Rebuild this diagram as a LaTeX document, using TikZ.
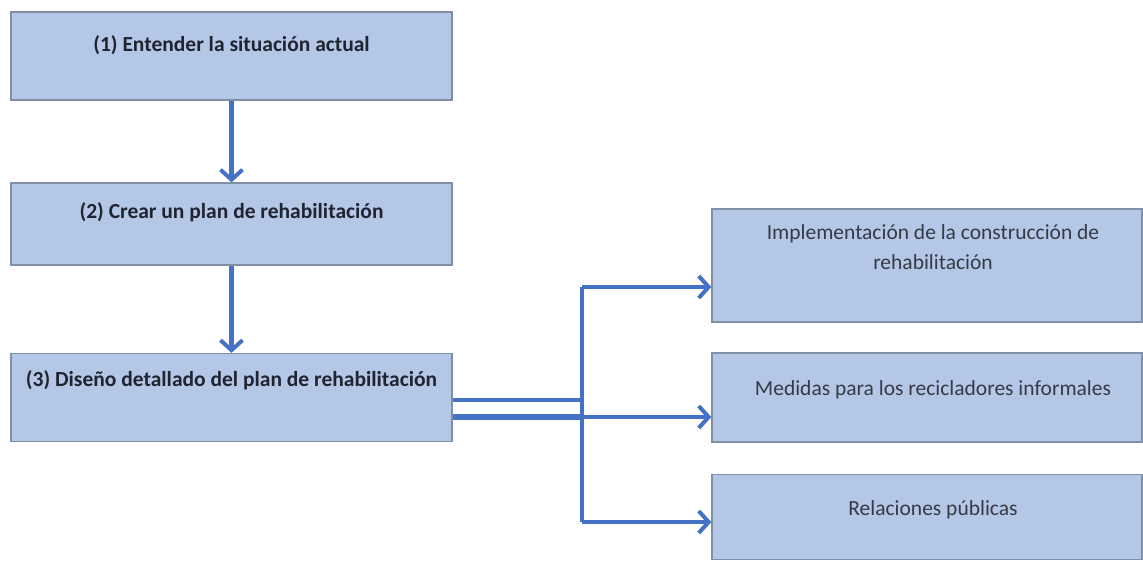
\documentclass[tikz,border=0pt]{standalone}
\usepackage{fontspec}
\setmainfont{Carlito}
\usetikzlibrary{arrows.meta}
\definecolor{boxfill}{HTML}{B4C7E7}
\definecolor{boxline}{HTML}{7F8FA6}
\definecolor{arr}{HTML}{4472C4}
\definecolor{txt}{HTML}{1F2430}
\begin{document}
\begin{tikzpicture}[x=1pt,y=1pt,
  box/.style={draw=boxline,line width=1.2pt,fill=boxfill,inner sep=0pt,anchor=center},
  ltxt/.style={font=\fontsize{21.5}{26}\selectfont\bfseries,text=txt,align=center},
  rtxt/.style={font=\fontsize{21.5}{30}\selectfont,text=txt!90,align=center},
  conn/.style={draw=arr,line width=4.5pt},
  arrow/.style={conn,-{Straight Barb[length=10pt,width=22pt,line width=4pt]}}]
\useasboundingbox (0,0) rectangle (1143,560);
\fill[white] (0,0) rectangle (1143,560);
% left boxes
\node[box,minimum width=441,minimum height=88] (b1) at (231.5,504) {};
\node[box,minimum width=441,minimum height=82] (b2) at (231.5,336) {};
\node[box,minimum width=441,minimum height=88] (b3) at (231.5,162.5) {};
\node[ltxt] (t1) at (231.5,515) {(1) Entender la situación actual};
\node[ltxt] (t2) at (231.5,348) {(2) Crear un plan de rehabilitación};
\node[ltxt] (t3) at (231.5,180) {(3) Diseño detallado del plan de rehabilitación};
% right boxes
\node[box,minimum width=430,minimum height=113] (ra) at (927,294.5) {};
\node[box,minimum width=430,minimum height=89] (rb) at (927,162.5) {};
\node[box,minimum width=430,minimum height=85] (rc) at (927,43) {};
\node[rtxt] (ta) at (933,313) {Implementación de la construcción de\\rehabilitación};
\node[rtxt] (tb) at (933,170) {Medidas para los recicladores informales};
\node[rtxt] (tc) at (933,50) {Relaciones públicas};
% vertical arrows
\draw[arrow] (b1.south) -- (b2.north);
\draw[arrow] (b2.south) -- (b3.north);
% branch
\coordinate (ja) at (582,273);
\coordinate (jc) at (582,38);
\coordinate (j1) at (582,160);
\coordinate (j2) at (582,143);
\draw[draw=arr,line width=3pt] (b3.east |- j1) -- (j1);
\draw[draw=arr,line width=5.5pt] (b3.east |- j2) -- (j2);
\draw[draw=arr,line width=4pt] (ja) -- (jc);
\draw[arrow] (ja) -- (ra.west |- ja);
\draw[arrow] (j2) -- (rb.west |- j2);
\draw[arrow] (jc) -- (rc.west |- jc);
\end{tikzpicture}
\end{document}
